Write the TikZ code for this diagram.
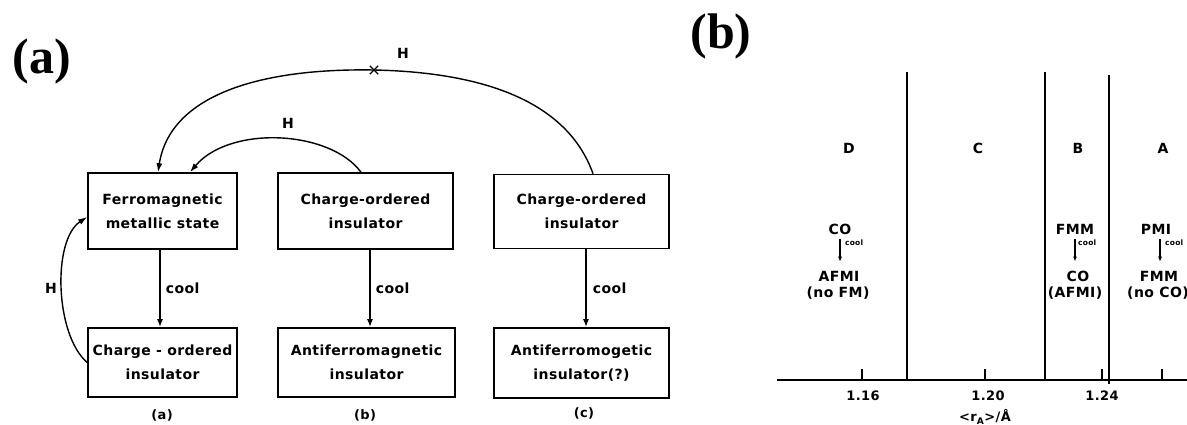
\documentclass[tikz,border=0pt]{standalone}
\usepackage{fontspec}
\setmainfont{Liberation Serif}
\newfontfamily\lbl[LetterSpace=3]{DejaVu Sans}
\usetikzlibrary{arrows.meta,shapes.misc,calc}

\begin{document}
\begin{tikzpicture}[x=1pt,y=-1pt,
  statebox/.style={draw, line width=1.6pt, inner sep=0pt, align=center,
    font=\lbl\bfseries\fontsize{14pt}{24pt}\selectfont},
  txt/.style={font=\lbl\bfseries\fontsize{14pt}{15pt}\selectfont, inner sep=0pt},
  ticktxt/.style={font=\lbl\bfseries\fontsize{13pt}{14pt}\selectfont, inner sep=0pt},
  tinytxt/.style={font=\lbl\bfseries\fontsize{7.5pt}{8pt}\selectfont, inner sep=0pt},
  flow/.style={line width=1.8pt, -{Latex[length=8pt,width=6pt]}},
  field/.style={line width=1.4pt, -{Latex[length=9pt,width=6pt]}},
  panel/.style={font=\bfseries\fontsize{50pt}{50pt}\selectfont, inner sep=0pt},
  sarrow/.style={line width=1.5pt, -{Latex[length=5pt,width=4pt]}},
  phaseline/.style={line width=2pt},
  axisline/.style={line width=1.6pt}
]
\useasboundingbox (0,0) rectangle (1187,425);
\clip (0,0) rectangle (1187,425);
\fill[white] (0,0) rectangle (1187,425);

% panel labels
\node[panel] (pa) at (42,61) {(a)};
\node[panel] (pb) at (721,36) {(b)};

% ---------- panel (a): state boxes ----------
\node[statebox, minimum width=149pt, minimum height=76pt] (fm) at (162.5,211) {Ferromagnetic\\metallic state};
\node[statebox, minimum width=175pt, minimum height=76pt] (co2) at (365.5,211) {Charge-ordered\\insulator};
\node[statebox, minimum width=175pt, minimum height=74pt] (co3) at (581.5,211.5) {Charge-ordered\\insulator};
\node[statebox, minimum width=149pt, minimum height=69pt] (co1) at (162.5,362.5) {Charge - ordered\\insulator};
\node[statebox, minimum width=177pt, minimum height=69pt] (af2) at (366.5,362.5) {Antiferromagnetic\\insulator};
\node[statebox, minimum width=175pt, minimum height=70pt] (af3) at (581.5,363) {Antiferromogetic\\insulator(?)};

\node[ticktxt] (la) at (162,415) {(a)};
\node[ticktxt] (lb) at (365,415) {(b)};
\node[ticktxt] (lc) at (584,413) {(c)};

% cooling arrows
\draw[flow] ([xshift=-2.5pt]fm.south) -- ([xshift=-2.5pt]co1.north)
  node[midway, right=5pt, txt] (c1) {cool};
\draw[flow] ([xshift=4.5pt]co2.south) -- ([xshift=3.5pt]af2.north)
  node[midway, right=5pt, txt] (c2) {cool};
\draw[flow] ([xshift=4.5pt]co3.south) -- ([xshift=4.5pt]af3.north)
  node[midway, right=6pt, txt] (c3) {cool};

% field-induced transitions
\draw[field] (co1.west) .. controls (55,335) and (52,240) .. ([yshift=-6pt]fm.west);
\node[txt] (hl) at (51,288) {H};

\draw[field] ([xshift=-4.5pt]co2.north) .. controls (330,130) and (230,125) .. ([xshift=27.5pt]fm.north);
\node[txt] (hm) at (288,123) {H};

\node[draw, cross out, line width=1.3pt, minimum size=7pt, inner sep=0pt] (blk) at (374,70) {};
\draw[field] ([xshift=11.5pt]co3.north) .. controls (565,95) and (470,72) .. (blk.center)
  .. controls (260,68) and (170,95) .. ([xshift=-4.5pt]fm.north);
\node[txt] (ht) at (403,53) {H};

% ---------- panel (b): phase diagram ----------
\draw[axisline] (777,380) -- (1187,380);
\foreach \t in {862,985,1102,1162} \draw[axisline] (\t,380) -- (\t,369);
\node[ticktxt] (t116) at (863,396) {1.16};
\node[ticktxt] (t120) at (988,396) {1.20};
\node[ticktxt] (t124) at (1102,396) {1.24};
\node[ticktxt] (xlab) at (985,417) {<r\textsubscript{A}>/Å};

\draw[line width=2.8pt] (907,72) -- (907,380);
\draw[phaseline] (1045,72) -- (1045,380);
\draw[phaseline] (1109,75) -- (1109,384);

\node[txt] (rD) at (849,148) {D};
\node[txt] (rC) at (978,148) {C};
\node[txt] (rB) at (1078,148) {B};
\node[txt] (rA) at (1163,148) {A};

% region D
\node[txt] (dco) at (840,229) {CO};
\node[txt] (dafm) at (839,276) {AFMI};
\node[txt] (dnofm) at (838,293) {(no FM)};
\draw[sarrow, shorten <=5pt, shorten >=9pt] (dco.south) -- (dco.south |- dafm.north);
\node[tinytxt, anchor=west] (dcool) at (845,243) {cool};

% region B
\node[txt] (bfmm) at (1075,229) {FMM};
\node[txt] (bco) at (1078,276) {CO};
\node[txt] (bafm) at (1075,293) {(AFMI)};
\node[tinytxt, anchor=west] (bcool) at (1078,243) {cool};
\draw[sarrow, shorten <=5pt, shorten >=9pt] (bfmm.south) -- (bfmm.south |- bco.north);

% region A
\node[txt] (apmi) at (1156,229) {PMI};
\node[txt] (afmm) at (1159,276) {FMM};
\node[txt] (anoco) at (1158,293) {(no CO)};
\node[tinytxt, anchor=west] (acool) at (1165,243) {cool};
\draw[sarrow, shorten <=5pt, shorten >=9pt] ([xshift=4pt]apmi.south) -- ([xshift=4pt]apmi.south |- afmm.north);
\end{tikzpicture}
\end{document}
